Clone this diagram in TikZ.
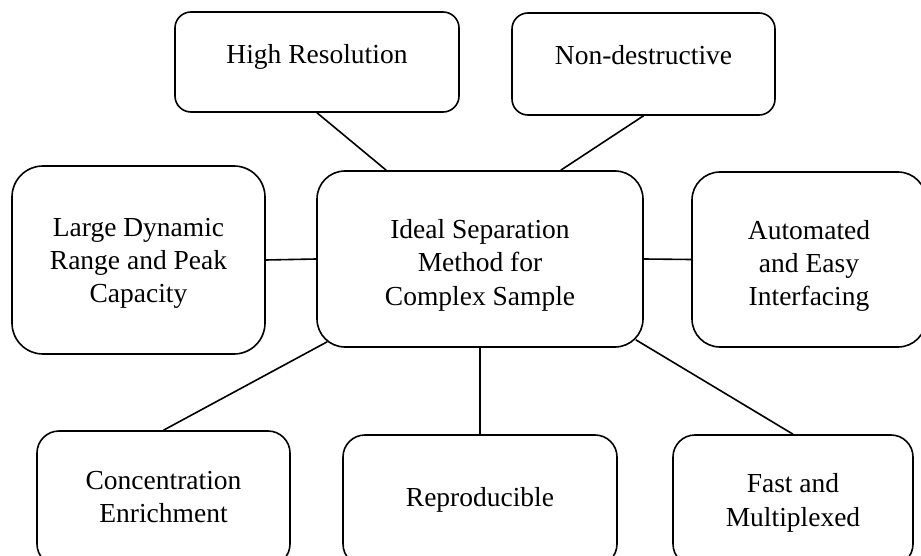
\documentclass[tikz,border=0pt]{standalone}
\usepackage{fontspec}
\setmainfont{Liberation Serif}
\newcommand\boxlines[2]{\raisebox{#1}[0pt][0pt]{\begin{tabular}[t]{@{}c@{}}#2\end{tabular}}}
\begin{document}
\begin{tikzpicture}[x=1pt,y=-1pt,
  font=\fontsize{27.5}{33.5}\selectfont,
  box/.style={draw=black, line width=1.6pt, rectangle, align=center, inner sep=0pt},
  link/.style={draw=black, line width=1.6pt}]
\useasboundingbox (0,0) rectangle (921,556);
\clip (0,0) rectangle (921,556);
\node[box, rounded corners=16pt, minimum width=284pt, minimum height=100pt] (hr) at (317,62) {\boxlines{-1.3pt}{High Resolution}};
\node[box, rounded corners=16pt, minimum width=263pt, minimum height=102pt] (nd) at (643.5,64) {\boxlines{-1pt}{Non-destructive}};
\node[box, rounded corners=31pt, minimum width=253pt, minimum height=188pt] (ld) at (138.5,260) {\boxlines{24pt}{Large Dynamic\\Range and Peak\\Capacity}};
\node[box, rounded corners=28pt, minimum width=326pt, minimum height=176pt] (c) at (480,259) {\boxlines{20.7pt}{Ideal Separation\\Method for\\Complex Sample}};
\node[box, rounded corners=28pt, minimum width=234pt, minimum height=175pt] (auto) at (809,259.5) {\boxlines{20.5pt}{Automated\\and Easy\\Interfacing}};
\node[box, rounded corners=22pt, minimum width=253pt, minimum height=135pt] (conc) at (163.5,498.5) {\boxlines{9.5pt}{Concentration\\Enrichment}};
\node[box, rounded corners=22pt, minimum width=274pt, minimum height=131pt] (repro) at (480,500.5) {\boxlines{-5.5pt}{Reproducible}};
\node[box, rounded corners=22pt, minimum width=240pt, minimum height=131pt] (fast) at (793,500.5) {\boxlines{7.8pt}{Fast and\\Multiplexed}};
\draw[link] (hr.south) -- ([xshift=70pt]c.north west);
\draw[link] (nd.south) -- ([xshift=-83pt]c.north east);
\draw[link] (ld.east) -- (c.west);
\draw[link] (c.east) -- (auto.west);
\draw[link] ([xshift=11pt,yshift=6pt]c.south west) -- (conc.north);
\draw[link] (c.south) -- (repro.north);
\draw[link] ([xshift=-8pt,yshift=8pt]c.south east) -- (fast.north);
\end{tikzpicture}
\end{document}
